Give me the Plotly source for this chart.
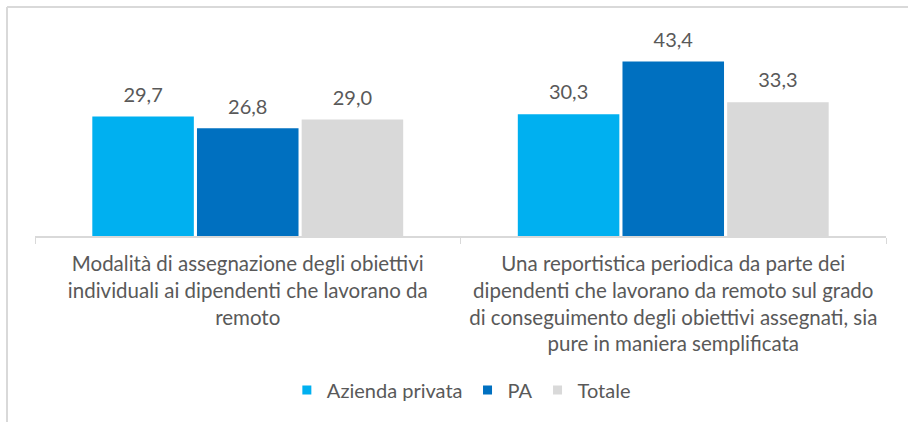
import plotly.graph_objects as go

categories = [
    "Modalità di assegnazione degli obiettivi<br>individuali ai dipendenti che lavorano da<br>remoto",
    "Una reportistica periodica da parte dei<br>dipendenti che lavorano da remoto sul grado<br>di conseguimento degli obiettivi assegnati, sia<br>pure in maniera semplificata",
]
series_names = ["Azienda privata", "PA", "Totale"]
azienda_privata = [29.7, 30.3]
pa = [26.8, 43.4]
totale = [29.0, 33.3]
colors = ["#00B0F0", "#0070C0", "#D9D9D9"]

FONT = "Lato"
GREY = "#595959"

fig = go.Figure()
for name, vals, col in zip(series_names, [azienda_privata, pa, totale], colors):
    fig.add_trace(go.Bar(
        x=categories, y=vals, name=name,
        marker=dict(color=col, line=dict(width=0)),
        showlegend=False, legendgroup=name,
    ))
for name, vals in zip(series_names, [azienda_privata, pa, totale]):
    fig.add_trace(go.Scatter(
        x=categories, y=vals, name=name, mode="markers+text",
        marker=dict(size=14, opacity=0),
        texttemplate="%{y:.1f}", textposition="top center",
        textfont=dict(family=FONT, size=20, color=GREY),
        showlegend=False, hoverinfo="skip", cliponaxis=False,
    ))
# legend entries (small square keys) on a hidden overlay axis
for name, col in zip(series_names, colors):
    fig.add_trace(go.Scatter(
        x=[None], y=[None], name=name, mode="markers",
        marker=dict(symbol="square", size=9, color=col),
        legendgroup=name, showlegend=True, xaxis="x2", yaxis="y2",
    ))

fig.update_layout(
    width=908, height=422,
    margin=dict(l=35, r=22, t=35, b=186, autoexpand=False),
    paper_bgcolor="white", plot_bgcolor="white",
    barmode="group", bargap=0.262, bargroupgap=0.03,
    scattermode="group", scattergap=0.262,
    separators=",.",
    showlegend=True,
    legend=dict(orientation="h", x=0.501, xanchor="center", y=-0.766, yanchor="middle",
                font=dict(family=FONT, size=20, color=GREY), itemwidth=30,
                traceorder="normal"),
    xaxis=dict(showline=True, linecolor="#D9D9D9", linewidth=1.5,
               ticks="outside", tickson="boundaries", ticklen=6, tickcolor="#D9D9D9",
               tickangle=0, ticklabelstandoff=9,
               tickfont=dict(family=FONT, size=20.5, color=GREY), showgrid=False),
    yaxis=dict(range=[0, 50], visible=False, showgrid=False),
    xaxis2=dict(overlaying="x", visible=False),
    yaxis2=dict(overlaying="y", visible=False),
    shapes=[
        dict(type="line", xref="paper", yref="paper", x0=-0.0329, x1=1.1, y0=1.139, y1=1.139,
             line=dict(color="#D9D9D9", width=2)),
        dict(type="line", xref="paper", yref="paper", x0=-0.0329, x1=-0.0329, y0=1.139, y1=-1.0,
             line=dict(color="#D9D9D9", width=2)),
    ],
)

fig.write_html("out.html", config={"displayModeBar": False},
               post_script="document.body.style.margin='0';")
